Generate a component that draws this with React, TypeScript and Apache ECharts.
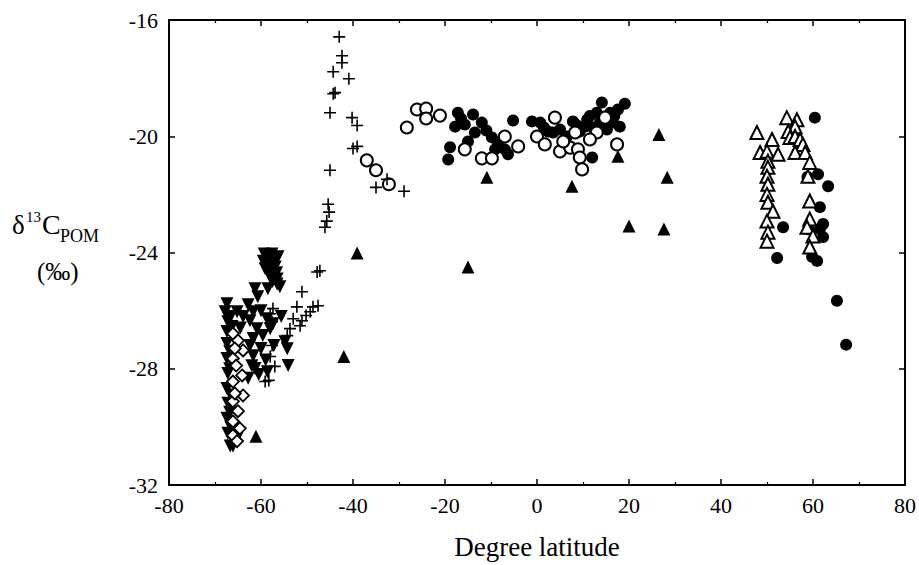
import React, { useEffect, useRef } from "react";
import * as echarts from "echarts";

// Tick values
const xTicks = [-80, -60, -40, -20, 0, 20, 40, 60, 80];
const yTicks = [-32, -28, -24, -20, -16];

// Series: [latitude, d13C POM]
const plusPoints = [
  [-43.0, -16.58], [-42.4, -17.23], [-42.4, -17.47], [-44.3, -17.78], [-40.9, -18.02],
  [-44.3, -18.54], [-43.9, -18.5], [-45.0, -19.19], [-40.2, -19.36], [-39.1, -19.63],
  [-40.0, -20.42], [-39.1, -20.35], [-45.0, -21.17], [-35.0, -21.76], [-32.6, -21.48],
  [-28.9, -21.89], [-45.4, -22.34], [-45.2, -22.61], [-45.7, -22.92], [-46.1, -23.13],
  [-47.2, -24.63], [-47.8, -24.67], [-51.1, -25.35], [-47.6, -25.83], [-48.7, -25.87],
  [-49.3, -26.04], [-50.2, -26.17], [-51.1, -26.35], [-52.2, -25.87], [-53.0, -26.28],
  [-51.5, -26.52], [-57.4, -25.93], [-58.0, -26.11], [-57.6, -26.38], [-53.7, -26.62],
  [-54.3, -26.86], [-57.6, -27.2], [-58.0, -27.58], [-57.0, -27.92], [-58.3, -28.4],
  [-59.1, -28.44]
];

const openCircles = [
  [-37.0, -20.83], [-35.0, -21.17], [-32.2, -21.65], [-28.3, -19.7], [-26.1, -19.08],
  [-24.1, -19.05], [-24.1, -19.39], [-21.1, -19.29], [-15.7, -20.45], [-12.0, -20.76],
  [-9.8, -20.76], [-7.0, -20.01], [-4.1, -20.35], [0.0, -20.01], [3.9, -19.36],
  [1.7, -20.28], [5.0, -20.52], [7.2, -20.39], [5.7, -20.18], [8.9, -20.45],
  [9.3, -20.73], [9.8, -21.14], [8.3, -19.87], [13.0, -19.87], [14.8, -19.36],
  [11.5, -20.11], [17.4, -20.28]
];

const filledCircles = [
  [-17.2, -19.19], [-13.9, -19.25], [-17.8, -19.67], [-12.0, -19.53], [-15.7, -19.6],
  [-13.5, -19.87], [-18.9, -20.38], [-19.3, -20.8], [-15.0, -20.18], [-9.8, -20.04],
  [-8.5, -20.28], [-7.0, -20.45], [-6.3, -20.62], [-5.2, -19.46], [-9.1, -20.45],
  [-1.1, -19.49], [0.7, -19.53], [2.4, -19.84], [3.5, -19.87], [7.8, -19.49],
  [10.9, -19.43], [13.0, -19.19], [14.1, -18.84], [15.9, -19.19], [17.6, -19.08],
  [19.1, -18.88], [16.5, -19.53], [15.2, -19.77], [12.0, -20.73], [18.0, -19.67],
  [13.7, -19.53], [6.5, -20.01], [9.3, -19.84], [5.0, -19.77], [10.4, -19.67],
  [12.2, -19.7], [14.3, -19.43], [-16.5, -19.4], [-11.0, -19.8], [1.5, -19.7],
  [11.5, -19.3], [16.8, -19.3], [8.5, -19.6],
  [60.4, -19.36], [63.3, -21.72], [61.1, -21.31], [61.5, -22.44], [53.5, -23.13],
  [61.5, -23.19], [62.2, -23.02], [62.2, -23.47], [52.2, -24.19], [59.8, -24.15],
  [60.9, -24.29], [65.2, -25.66], [67.2, -27.17], [58.8, -21.4], [59.0, -23.2]
];

const filledTriangles = [
  [-39.1, -24.02], [-42.0, -27.58], [-61.1, -30.32], [-15.0, -24.5], [-10.9, -21.41],
  [7.6, -21.72], [17.6, -20.69], [20.0, -23.09], [26.5, -19.94], [27.6, -23.19],
  [28.3, -21.41]
];

const openTriangles = [
  [47.8, -19.87], [54.3, -19.36], [56.5, -19.43], [56.1, -19.67], [51.1, -20.11],
  [48.5, -20.56], [50.0, -20.52], [52.4, -20.62], [50.2, -20.86], [54.6, -19.84],
  [55.0, -20.04], [56.1, -20.01], [57.2, -20.11], [57.8, -20.28], [56.1, -20.56],
  [58.3, -20.56], [59.3, -20.9], [58.9, -21.38], [50.2, -21.07], [50.0, -21.38],
  [50.2, -21.65], [50.0, -22.0], [50.2, -22.27], [51.3, -22.58], [50.0, -22.92],
  [50.2, -23.3], [50.0, -23.61], [59.3, -22.23], [59.3, -22.85], [58.7, -23.13],
  [60.0, -23.43], [59.3, -23.81]
];

const invTriangles = [
  [-67.4, -25.76], [-67.8, -26.04], [-67.2, -26.38], [-67.4, -26.72], [-66.3, -26.55],
  [-65.2, -26.04], [-61.3, -25.25], [-60.7, -25.52], [-61.7, -26.04], [-62.4, -26.35],
  [-60.9, -26.62], [-61.7, -26.96], [-62.4, -27.2], [-61.7, -27.55], [-61.3, -27.99],
  [-62.8, -28.33], [-59.6, -26.86], [-54.8, -27.07], [-54.3, -27.31], [-54.1, -27.89],
  [-56.5, -24.91], [-58.0, -26.62], [-58.7, -26.28], [-57.4, -26.45], [-66.1, -30.66],
  [-65.2, -30.39], [-56.5, -25.08], [-59.3, -24.05], [-57.6, -24.05], [-58.5, -24.29],
  [-56.3, -24.15], [-59.1, -24.56], [-56.9, -24.5], [-58.0, -24.84], [-55.9, -25.18],
  [-58.5, -25.25], [-67.4, -27.13], [-67.4, -27.65], [-67.2, -28.16], [-67.4, -28.68],
  [-67.2, -29.19], [-67.4, -29.7], [-67.2, -30.22], [-66.7, -30.66], [-63.9, -26.2],
  [-64.5, -26.6], [-66.6, -26.2], [-66.8, -27.4], [-66.8, -28.0], [-66.6, -28.9],
  [-66.8, -29.5], [-66.6, -30.0], [-60.0, -27.3], [-59.0, -27.7], [-58.6, -28.1],
  [-60.5, -28.2], [-57.2, -27.2], [-62.0, -27.9], [-58.0, -24.1], [-57.2, -24.35],
  [-59.5, -24.3], [-58.0, -24.6], [-56.6, -24.7], [-57.5, -25.0], [-60.0, -26.0],
  [-62.8, -25.8], [-55.6, -26.2]
];

const openDiamonds = [
  [-66.1, -26.79], [-65.0, -27.03], [-63.9, -27.37], [-66.1, -27.65], [-65.4, -27.89],
  [-64.1, -28.23], [-66.1, -28.44], [-63.9, -28.92], [-66.1, -29.12], [-65.0, -29.46],
  [-66.1, -29.81], [-64.6, -30.05], [-66.1, -30.29], [-65.2, -30.49], [-65.7, -28.85],
  [-65.7, -27.3]
];

const FONT = "Liberation Serif";
const PLUS = "path://M0,5L10,5M5,0L5,10";

export default function App() {
  const ref = useRef<HTMLDivElement>(null);
  useEffect(() => {
    if (!ref.current) return;
    const chart = echarts.init(ref.current, undefined, { renderer: "svg" });
    const tickCommon = { show: true, inside: true, length: 6, lineStyle: { color: "#000", width: 1.5 } };
    const minorCommon = { show: true, splitNumber: 2, length: 3, lineStyle: { color: "#000", width: 1.2 } };
    const xBase = { type: "value", min: xTicks[0], max: xTicks[xTicks.length - 1], interval: 20, splitLine: { show: false } };
    const yBase = { type: "value", min: yTicks[0], max: yTicks[yTicks.length - 1], interval: 4, splitLine: { show: false } };
    const base = { type: "scatter", symbolSize: 12 };
    chart.setOption({
      animation: false,
      backgroundColor: "#fff",
      grid: { left: 169, right: 14, top: 20, bottom: 78, show: false },
      xAxis: [
        {
          ...xBase,
          position: "bottom",
          name: "Degree latitude",
          nameLocation: "middle",
          nameGap: 48,
          nameTextStyle: { fontFamily: FONT, fontSize: 27, color: "#000" },
          axisLine: { show: true, onZero: false, lineStyle: { color: "#000", width: 2 } },
          axisTick: tickCommon,
          minorTick: minorCommon,
          axisLabel: { fontFamily: FONT, fontSize: 22, color: "#000", margin: 9 },
        },
        {
          ...xBase,
          position: "top",
          axisLine: { show: true, onZero: false, lineStyle: { color: "#000", width: 2 } },
          axisTick: tickCommon,
          minorTick: minorCommon,
          axisLabel: { show: false },
        },
      ],
      yAxis: [
        {
          ...yBase,
          position: "left",
          axisLine: { show: true, onZero: false, lineStyle: { color: "#000", width: 2 } },
          axisTick: tickCommon,
          axisLabel: { fontFamily: FONT, fontSize: 22, color: "#000", margin: 11 },
        },
        {
          ...yBase,
          position: "right",
          axisLine: { show: true, onZero: false, lineStyle: { color: "#000", width: 2 } },
          axisTick: tickCommon,
          axisLabel: { show: false },
        },
      ],
      graphic: [
        { type: "text", left: 12, top: 211, style: { text: "δ", fontFamily: FONT, fontSize: 27, fill: "#000" } },
        { type: "text", left: 26, top: 209, style: { text: "13", fontFamily: FONT, fontSize: 15, fill: "#000" } },
        { type: "text", left: 42, top: 210, style: { text: "C", fontFamily: FONT, fontSize: 28, fill: "#000" } },
        { type: "text", left: 60, top: 227, style: { text: "POM", fontFamily: FONT, fontSize: 18, fill: "#000" } },
        { type: "text", left: 37, top: 259, style: { text: "(‰)", fontFamily: FONT, fontSize: 25, fill: "#000" } },
      ],
      series: [
        { ...base, name: "filledCircles", data: filledCircles, symbol: "circle", itemStyle: { color: "#000", opacity: 1 } },
        { ...base, name: "openCircles", data: openCircles, symbol: "circle", itemStyle: { color: "#fff", borderColor: "#000", borderWidth: 2, opacity: 1 } },
        { ...base, name: "filledTriangles", data: filledTriangles, symbol: "triangle", symbolSize: 13, itemStyle: { color: "#000", opacity: 1 } },
        { ...base, name: "openTriangles", data: openTriangles, symbol: "triangle", symbolSize: 13, itemStyle: { color: "#fff", borderColor: "#000", borderWidth: 2, opacity: 1 } },
        { ...base, name: "invTriangles", data: invTriangles, symbol: "triangle", symbolRotate: 180, symbolSize: 13, itemStyle: { color: "#000", opacity: 1 } },
        { ...base, name: "openDiamonds", data: openDiamonds, symbol: "diamond", symbolSize: 12, itemStyle: { color: "#fff", borderColor: "#000", borderWidth: 1.8, opacity: 1 } },
        { ...base, name: "plus", data: plusPoints, symbol: PLUS, symbolSize: 12, itemStyle: { color: "none", borderColor: "#000", borderWidth: 1.6, opacity: 1 } },
      ],
    });
    return () => chart.dispose();
  }, []);
  return (
    <div
      ref={ref}
      style={{ position: "absolute", left: 0, top: 0, width: 919, height: 565, background: "#fff" }}
    />
  );
}
